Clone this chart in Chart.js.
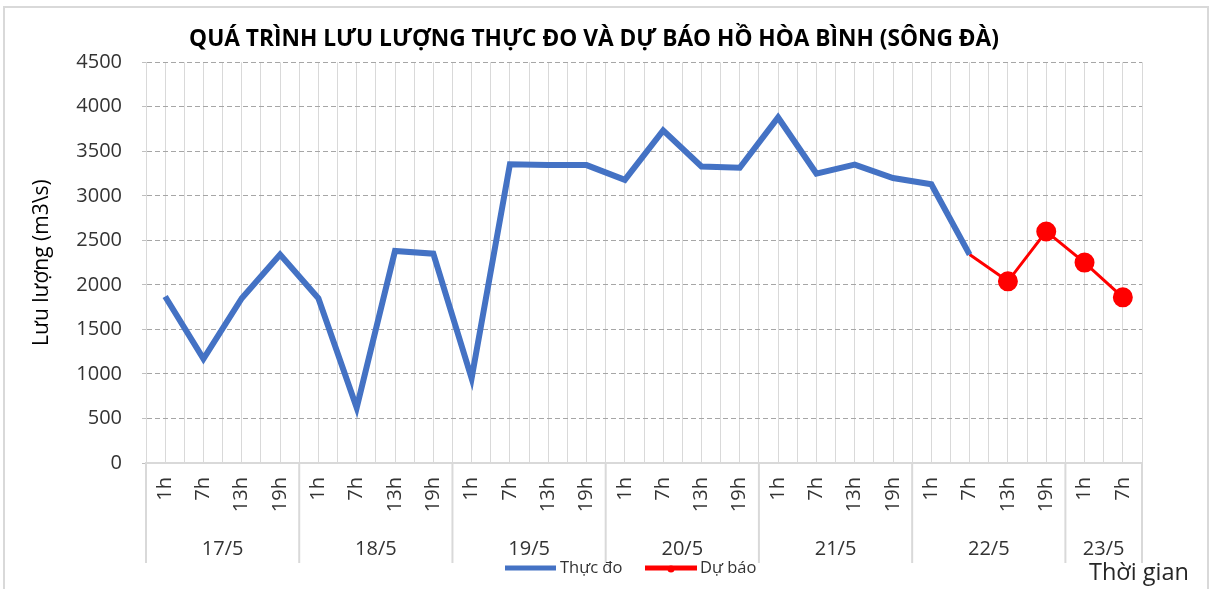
<!DOCTYPE html>
<html>
<head>
<meta charset="utf-8">
<script src="https://cdn.jsdelivr.net/npm/chart.js@4.4.0/dist/chart.umd.min.js"></script>
<style>
html,body{margin:0;padding:0;background:#fff;}
#wrap{position:relative;width:1212px;height:589px;overflow:hidden;background:#fff;}
#frame{position:absolute;left:3px;top:6px;width:1206px;height:620px;border:2px solid #d9d9d9;box-sizing:border-box;pointer-events:none;}
canvas{position:absolute;left:0;top:0;}
</style>
</head>
<body>
<div id="wrap"><canvas id="c" width="1212" height="589"></canvas><div id="frame"></div></div>
<script>
// ---- data ----
const hourLabels = ['1h','7h','13h','19h','1h','7h','13h','19h','1h','7h','13h','19h','1h','7h','13h','19h','1h','7h','13h','19h','1h','7h','13h','19h','1h','7h'];
const dayLabels = ['17/5','18/5','19/5','20/5','21/5','22/5','23/5'];
const hoursPerDay = [4,4,4,4,4,4,2];
const observed = [1870,1170,1850,2340,1850,620,2380,2350,950,3355,3345,3345,3180,3735,3330,3315,3880,3250,3350,3200,3130,2340,null,null,null,null];
const forecast = [null,null,null,null,null,null,null,null,null,null,null,null,null,null,null,null,null,null,null,null,null,2340,2040,2600,2250,1860];
const yTickValues = [0,500,1000,1500,2000,2500,3000,3500,4000,4500];
const seriesNames = ['Thực đo','Dự báo'];
const chartTitle = 'QUÁ TRÌNH LƯU LƯỢNG THỰC ĐO VÀ DỰ BÁO HỒ HÒA BÌNH (SÔNG ĐÀ)';
const yTitle = 'Lưu lượng (m3\\s)';
const xTitle = 'Thời gian';

const FONT = 'Open Sans';
const BLUE = '#4472C4';
const RED = '#FF0000';

const extrasPlugin = {
  id: 'extras',
  afterDraw(chart) {
    const ctx = chart.ctx;
    const xs = chart.scales.x;
    const step = xs.getPixelForValue(1) - xs.getPixelForValue(0);
    const top = xs.top;
    ctx.save();
    // group separators + day labels
    ctx.strokeStyle = '#d9d9d9';
    ctx.lineWidth = 2;
    let idx = 0;
    const left0 = xs.getPixelForValue(0) - step / 2;
    ctx.beginPath();
    ctx.moveTo(left0, top); ctx.lineTo(left0, top + 100);
    ctx.stroke();
    ctx.font = '20px "' + FONT + '"';
    ctx.fillStyle = '#333333';
    ctx.textAlign = 'center';
    ctx.textBaseline = 'middle';
    dayLabels.forEach((d, k) => {
      const start = idx;
      idx += hoursPerDay[k];
      const end = idx - 1;
      const l = xs.getPixelForValue(start) - step / 2;
      const r = xs.getPixelForValue(end) + step / 2;
      ctx.beginPath();
      ctx.moveTo(r, top); ctx.lineTo(r, top + 100);
      ctx.stroke();
      ctx.fillText(d, (l + r) / 2, top + 86);
    });
    // legend
    const ly = 568;
    ctx.font = '16.5px "' + FONT + '"';
    ctx.textAlign = 'left';
    ctx.fillStyle = '#333333';
    let lx = 505;
    ctx.lineWidth = 5;
    ctx.strokeStyle = BLUE;
    ctx.beginPath(); ctx.moveTo(lx, ly); ctx.lineTo(lx + 51, ly); ctx.stroke();
    ctx.fillText(seriesNames[0], lx + 55, ly);
    lx = 645;
    ctx.strokeStyle = RED;
    ctx.beginPath(); ctx.moveTo(lx, ly); ctx.lineTo(lx + 52, ly); ctx.stroke();
    ctx.fillStyle = RED;
    ctx.beginPath(); ctx.arc(lx + 26, ly + 1, 3.5, 0, Math.PI * 2); ctx.fill();
    ctx.fillStyle = '#333333';
    ctx.fillText(seriesNames[1], lx + 55, ly);
    // x title
    ctx.font = '23.5px "' + FONT + '"';
    ctx.fillStyle = '#262626';
    ctx.fillText(xTitle, 1089, 573);
    ctx.restore();
  }
};

new Chart(document.getElementById('c'), {
  type: 'line',
  data: {
    labels: hourLabels,
    datasets: [
      {
        label: seriesNames[0],
        data: observed,
        borderColor: BLUE,
        backgroundColor: BLUE,
        borderWidth: 6,
        pointRadius: 0,
        tension: 0,
        spanGaps: false
      },
      {
        label: seriesNames[1],
        data: forecast,
        borderColor: RED,
        backgroundColor: RED,
        borderWidth: 3,
        pointRadius: (c) => (observed[c.dataIndex] != null ? 0 : 9),
        pointBorderWidth: 2,
        pointBackgroundColor: RED,
        pointBorderColor: RED,
        tension: 0,
        spanGaps: false
      }
    ]
  },
  plugins: [extrasPlugin],
  options: {
    responsive: false,
    animation: false,
    events: [],
    layout: { padding: { left: 0, right: 24, top: 0, bottom: 0 } },
    plugins: {
      legend: { display: false },
      tooltip: { enabled: false },
      title: {
        display: true,
        text: chartTitle,
        color: '#000',
        font: { family: FONT, size: 22.7, weight: 'bold' },
        padding: { top: 26, bottom: 9 }
      }
    },
    scales: {
      x: {
        type: 'category',
        position: 'bottom',
        offset: true,
        grid: { display: true, offset: false, color: '#d9d9d9', lineWidth: 1, drawTicks: false },
        border: { display: true, color: '#d9d9d9', width: 2 },
        ticks: {
          autoSkip: false, minRotation: 90, maxRotation: 90, padding: 14,
          color: '#333333', font: { family: FONT, size: 20 }
        },
        afterFit(s) { s.height = 126; }
      },
      x2: {
        type: 'category',
        position: 'bottom',
        offset: true,
        grid: { display: true, offset: true, color: '#d9d9d9', lineWidth: 1, drawTicks: false },
        border: { display: false },
        ticks: { display: false },
        afterFit(s) { s.height = 0; }
      },
      y: {
        type: 'linear',
        position: 'left',
        min: 0,
        max: 4500,
        afterBuildTicks(s) { s.ticks = yTickValues.map(v => ({ value: v })); },
        grid: {
          color: (c) => (c.tick && c.tick.value === 0 ? 'rgba(0,0,0,0)' : '#a6a6a6'),
          lineWidth: 1,
          drawTicks: true,
          tickLength: 4,
          tickColor: '#bfbfbf',
          tickBorderDash: []
        },
        border: { display: true, color: '#d9d9d9', width: 1, dash: [5, 3] },
        ticks: {
          padding: 20, color: '#333333', font: { family: FONT, size: 20 },
          callback: (v) => String(v)
        },
        title: {
          display: true,
          text: yTitle,
          color: '#000',
          font: { family: FONT, size: 21 },
          padding: { top: 29, bottom: 0 }
        },
        afterFit(s) { s.width = 146; }
      },
      y2: {
        type: 'linear',
        position: 'right',
        display: true,
        grid: { display: false, drawOnChartArea: false },
        border: { display: false },
        ticks: { display: false },
        afterFit(s) { s.width = 46; }
      }
    }
  }
});
</script>
</body>
</html>
